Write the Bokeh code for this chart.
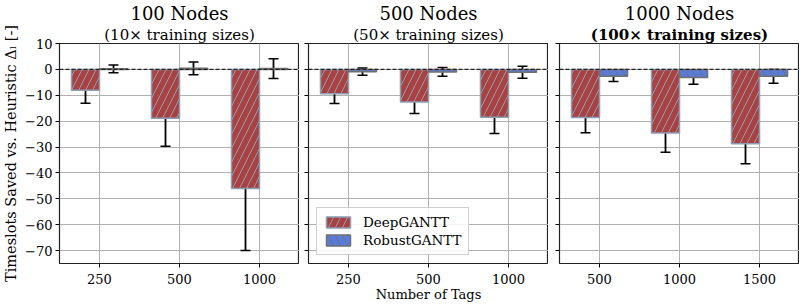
import numpy as np
from bokeh.plotting import figure
from bokeh.layouts import row
from bokeh.models import (FixedTicker, Whisker, TeeHead, ColumnDataSource, Span, Title,
                          Legend, LegendItem, CustomJSTickFormatter)
from bokeh.embed import file_html
from bokeh.resources import INLINE

# ---- data ----
titles = ["100 Nodes", "500 Nodes", "1000 Nodes"]
subtitles = ["(10\u00d7 training sizes)", "(50\u00d7 training sizes)", "(100\u00d7 training sizes)"]
tag_labels = [["250", "500", "1000"], ["250", "500", "1000"], ["500", "1000", "1500"]]

deep_mean = [[-8.1, -18.9, -46.0], [-9.4, -12.6, -18.5], [-18.6, -24.6, -28.7]]
deep_err = [[5.0, 10.8, 24.0], [3.8, 4.4, 6.3], [5.9, 7.4, 7.8]]
robust_mean = [[0.2, 0.4, 0.3], [-0.9, -1.0, -1.1], [-2.7, -3.1, -2.7]]
robust_err = [[1.5, 2.5, 3.8], [1.4, 1.7, 2.3], [2.0, 2.6, 2.7]]

y_ticks = [10, 0, -10, -20, -30, -40, -50, -60, -70]

FONT = "DejaVu Serif"
RED = "#aa4141"
BLUE = "#587be0"
W = 0.35

figs = []
for i in range(3):
    left = [50, 9, 11][i]
    p = figure(output_backend="svg", toolbar_location=None,
               frame_width=240, frame_height=220,
               x_range=(-0.5, 2.5), y_range=(-75, 10),
               min_border_left=left, min_border_right=0,
               min_border_top=35, min_border_bottom=10)
    p.title = None
    sub = Title(text=subtitles[i], text_font=FONT, text_font_size="15px",
                align="center", text_font_style="bold" if i == 2 else "normal",
                text_color="black", standoff=0, offset=0)
    main = Title(text=titles[i], text_font=FONT, text_font_size="18px",
                 align="center", text_font_style="normal", text_color="black",
                 standoff=0)
    p.add_layout(sub, "above")
    p.add_layout(main, "above")

    idx = np.arange(3)
    src = ColumnDataSource(dict(
        xd=idx - W / 2, xr=idx + W / 2,
        dm=deep_mean[i], rm=robust_mean[i],
        dlo=np.array(deep_mean[i]) - np.array(deep_err[i]),
        dhi=np.array(deep_mean[i]) + np.array(deep_err[i]),
        rlo=np.array(robust_mean[i]) - np.array(robust_err[i]),
        rhi=np.array(robust_mean[i]) + np.array(robust_err[i]),
    ))
    r1 = p.vbar(x="xd", top="dm", bottom=0, width=W, source=src,
                fill_color=RED, line_color="#8d9db2", line_width=1.5,
                hatch_pattern="/", hatch_color="#8d9db2", hatch_scale=14, hatch_weight=1)
    r2 = p.vbar(x="xr", top="rm", bottom=0, width=W, source=src,
                fill_color=BLUE, line_color="#707070", line_width=1.5,
                hatch_pattern="\\", hatch_color="#707070", hatch_scale=14, hatch_weight=1)

    for lo, hi, xx in (("dlo", "dhi", "xd"), ("rlo", "rhi", "xr")):
        wk = Whisker(source=src, base=xx, lower=lo, upper=hi, dimension="height",
                     line_color="black", line_width=1.8,
                     upper_head=TeeHead(size=10, line_color="black", line_width=1.5),
                     lower_head=TeeHead(size=10, line_color="black", line_width=1.5))
        p.add_layout(wk)

    p.add_layout(Span(location=0, dimension="width", line_color="#222222",
                      line_dash="4 2", line_width=1.2))

    p.xaxis.ticker = FixedTicker(ticks=[0, 1, 2])
    p.xaxis.major_label_overrides = {k: tag_labels[i][k] for k in range(3)}
    p.yaxis.ticker = FixedTicker(ticks=y_ticks)
    for ax in (p.xaxis, p.yaxis):
        ax.major_label_text_font = FONT
        ax.major_label_text_font_size = "13px"
        ax.major_label_text_color = "black"
        ax.major_tick_in = 0
        ax.major_tick_out = 4
        ax.minor_tick_line_color = None
        ax.axis_line_color = None
        ax.major_tick_line_color = "black"
    p.xaxis.major_label_standoff = 6
    if i == 0:
        p.yaxis.axis_label = "Timeslots Saved vs. Heuristic \u0394\u2097 [-]"
        p.yaxis.axis_label_text_font = FONT
        p.yaxis.axis_label_text_font_size = "14.5px"
        p.yaxis.axis_label_text_font_style = "normal"
        p.yaxis.axis_label_text_color = "black"
        p.yaxis.axis_label_standoff = 3
        p.yaxis.major_label_standoff = 3
    else:
        p.yaxis.formatter = CustomJSTickFormatter(code="return ''")
        p.yaxis.major_label_standoff = 0
    if i == 1:
        p.xaxis.axis_label = "Number of Tags"
        p.xaxis.axis_label_text_font = FONT
        p.xaxis.axis_label_text_font_size = "13px"
        p.xaxis.axis_label_text_font_style = "normal"
        p.xaxis.axis_label_text_color = "black"
        p.xaxis.axis_label_standoff = 0
        legend = Legend(items=[LegendItem(label="DeepGANTT", renderers=[r1]),
                               LegendItem(label="RobustGANTT", renderers=[r2])],
                        location="bottom_left")
        legend.label_text_font = FONT
        legend.label_text_font_size = "13.5px"
        legend.label_text_color = "black"
        legend.border_line_color = "#d0d0d0"
        legend.border_line_alpha = 1
        legend.background_fill_alpha = 0.85
        legend.margin = 8
        legend.padding = 6
        legend.spacing = 2
        legend.glyph_width = 30
        legend.glyph_height = 14
        legend.label_standoff = 10
        p.add_layout(legend)

    p.xgrid.grid_line_color = "#b0b0b0"
    p.ygrid.grid_line_color = "#b0b0b0"
    p.xgrid.grid_line_width = 1
    p.ygrid.grid_line_width = 1
    p.outline_line_color = "#222222"
    p.outline_line_width = 1.2
    p.background_fill_color = "white"
    p.border_fill_color = "white"
    figs.append(p)

layout = row(*figs, spacing=0)
open("out.html", "w").write(file_html(layout, INLINE))
